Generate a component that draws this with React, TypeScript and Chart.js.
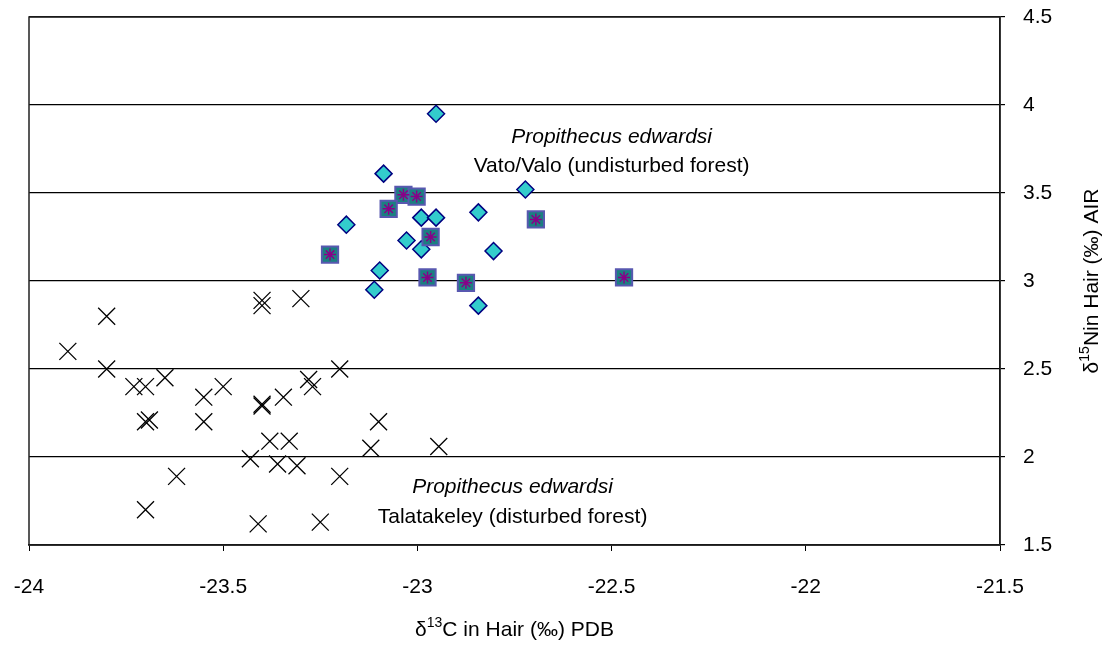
import React, { useEffect, useRef } from "react";
import { Chart, registerables } from "chart.js";

Chart.register(...registerables);

// Talatakeley (disturbed forest) – crosses
const talaX = [
  -23.9, -23.8, -23.8, -23.73, -23.7, -23.65, -23.7, -23.69, -23.55, -23.5, -23.55,
  -23.62, -23.7, -23.4, -23.4, -23.3, -23.4, -23.4, -23.43, -23.41, -23.38, -23.33,
  -23.36, -23.31, -23.345, -23.28, -23.27, -23.2, -23.2, -23.25, -23.1, -23.12, -22.945,
];
const talaY = [
  2.6, 2.8, 2.5, 2.4, 2.4, 2.45, 2.2, 2.21, 2.34, 2.4, 2.2,
  1.89, 1.7, 2.89, 2.86, 2.9, 2.3, 2.29, 1.99, 1.62, 2.09, 2.09,
  1.96, 1.95, 2.34, 2.44, 2.4, 2.5, 1.89, 1.63, 2.2, 2.05, 2.06,
];

// Vato/Valo (undisturbed forest) – diamonds
const vatoX = [
  -23.087, -22.722, -23.183, -22.99, -22.952, -22.843, -23.028, -22.99, -22.804,
  -23.097, -23.111, -22.843, -22.952,
];
const vatoY = [3.61, 3.52, 3.32, 3.36, 3.36, 3.39, 3.23, 3.18, 3.17, 3.06, 2.95, 2.86, 3.95];

// Vato/Valo – squares with asterisk
const vatoSqX = [-23.036, -23.002, -23.074, -22.695, -22.966, -23.225, -22.974, -22.875, -22.468];
const vatoSqY = [3.49, 3.48, 3.41, 3.35, 3.25, 3.15, 3.02, 2.99, 3.02];

const xTicks = [-24, -23.5, -23, -22.5, -22, -21.5];
const yTicks = [1.5, 2, 2.5, 3, 3.5, 4, 4.5];

const FONT = "'Liberation Sans', Arial, sans-serif";

const toPts = (xs: number[], ys: number[]) => xs.map((x, i) => ({ x, y: ys[i] }));

function drawSup(
  ctx: CanvasRenderingContext2D,
  parts: { t: string; sup?: boolean }[],
  cx: number,
  cy: number,
  size: number
) {
  const supSize = Math.round(size * 0.65);
  let total = 0;
  for (const p of parts) {
    ctx.font = `${p.sup ? supSize : size}px ${FONT}`;
    total += ctx.measureText(p.t).width;
  }
  let x = cx - total / 2;
  ctx.textAlign = "left";
  ctx.textBaseline = "middle";
  for (const p of parts) {
    ctx.font = `${p.sup ? supSize : size}px ${FONT}`;
    ctx.fillText(p.t, x, p.sup ? cy - size * 0.33 : cy);
    x += ctx.measureText(p.t).width;
  }
}

const decorPlugin = {
  id: "decor",
  afterDraw(chart: any) {
    const ctx = chart.ctx as CanvasRenderingContext2D;
    const a = chart.chartArea;
    ctx.save();
    // plot border
    ctx.strokeStyle = "#222";
    ctx.lineWidth = 1.5;
    ctx.strokeRect(a.left, a.top, a.right - a.left, a.bottom - a.top);
    ctx.fillStyle = "#000";
    // x title
    drawSup(
      ctx,
      [{ t: "δ" }, { t: "13", sup: true }, { t: "C in Hair (‰) PDB" }],
      (a.left + a.right) / 2,
      630,
      21
    );
    // y title (rotated)
    ctx.save();
    ctx.translate(1092, (a.top + a.bottom) / 2);
    ctx.rotate(-Math.PI / 2);
    drawSup(
      ctx,
      [{ t: "δ" }, { t: "15", sup: true }, { t: "Nin Hair (‰) AIR" }],
      0,
      0,
      21
    );
    ctx.restore();
    // annotations
    ctx.textAlign = "center";
    ctx.textBaseline = "middle";
    const xs = chart.scales.x;
    const ys = chart.scales.y;
    ctx.font = `italic 21px ${FONT}`;
    ctx.fillText("Propithecus edwardsi", xs.getPixelForValue(-22.5), ys.getPixelForValue(3.815));
    ctx.font = `21px ${FONT}`;
    ctx.fillText("Vato/Valo (undisturbed forest)", xs.getPixelForValue(-22.5), ys.getPixelForValue(3.655));
    ctx.font = `italic 21px ${FONT}`;
    ctx.fillText("Propithecus edwardsi", xs.getPixelForValue(-22.755), ys.getPixelForValue(1.83));
    ctx.font = `21px ${FONT}`;
    ctx.fillText("Talatakeley (disturbed forest)", xs.getPixelForValue(-22.755), ys.getPixelForValue(1.66));
    ctx.restore();
  },
};

export default function App() {
  const ref = useRef<HTMLCanvasElement>(null);
  useEffect(() => {
    if (!ref.current) return;
    const sq = toPts(vatoSqX, vatoSqY);
    const chart = new Chart(ref.current, {
      type: "scatter",
      data: {
        datasets: [
          {
            label: "Talatakeley",
            data: toPts(talaX, talaY),
            pointStyle: "crossRot",
            pointRadius: 12,
            borderColor: "#000",
            backgroundColor: "#000",
            borderWidth: 1.3,
            order: 3,
          },
          {
            label: "Vato/Valo",
            data: toPts(vatoX, vatoY),
            pointStyle: "rectRot",
            pointRadius: 8.5,
            borderColor: "#000080",
            backgroundColor: "#33CCCC",
            borderWidth: 1.5,
            order: 2,
          },
          {
            label: "Vato/Valo sq",
            data: sq,
            pointStyle: "rect",
            pointRadius: 11.5,
            borderColor: "#5858b0",
            backgroundColor: "#1a8080",
            borderWidth: 2,
            order: 1,
          },
          {
            label: "Vato/Valo star",
            data: sq,
            pointStyle: "star",
            pointRadius: 6,
            borderColor: "#880088",
            backgroundColor: "#880088",
            borderWidth: 1.5,
            order: 0,
          },
        ],
      },
      options: {
        animation: false,
        responsive: false,
        devicePixelRatio: 1,
        layout: { padding: { left: 29, top: 17, right: 0, bottom: 0 } },
        plugins: { legend: { display: false }, tooltip: { enabled: false } },
        scales: {
          x: {
            type: "linear",
            min: -24,
            max: -21.5,
            afterBuildTicks: (s: any) => {
              s.ticks = xTicks.map((v) => ({ value: v }));
            },
            afterFit: (s: any) => {
              s.height = 106;
              s.paddingLeft = 0;
              s.paddingRight = 0;
            },
            grid: {
              drawOnChartArea: false,
              color: "#000",
              tickLength: 6,
            },
            border: { color: "#000", width: 1.5 },
            ticks: {
              color: "#000",
              padding: 24,
              font: { size: 21, family: FONT },
              maxRotation: 0,
              callback: (v: any) => String(v),
            },
          },
          y: {
            type: "linear",
            position: "right",
            min: 1.5,
            max: 4.5,
            afterBuildTicks: (s: any) => {
              s.ticks = yTicks.map((v) => ({ value: v }));
            },
            afterFit: (s: any) => {
              s.width = 114;
              s.paddingTop = 0;
              s.paddingBottom = 0;
            },
            grid: {
              color: "#000",
              lineWidth: 1.2,
              tickLength: 5,
            },
            border: { color: "#000", width: 1.5 },
            ticks: {
              color: "#000",
              padding: 18,
              font: { size: 21, family: FONT },
              callback: (v: any) => String(v),
            },
          },
        },
      },
      plugins: [decorPlugin],
    });
    return () => chart.destroy();
  }, []);
  return (
    <div style={{ position: "fixed", left: 0, top: 0, width: 1114, height: 651, background: "#fff" }}>
      <canvas ref={ref} width={1114} height={651} style={{ width: 1114, height: 651, display: "block" }} />
    </div>
  );
}
